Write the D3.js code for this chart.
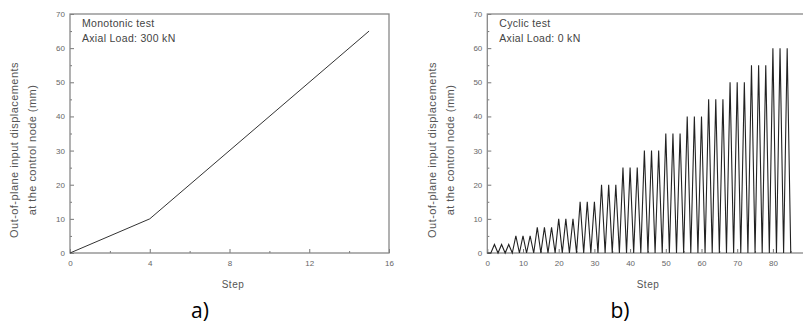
<!DOCTYPE html>
<html lang="en">
<meta charset="utf-8">
<style>
body { margin: 0; background: #fff; }
svg { font-family: "Liberation Sans", Arial, sans-serif; }
.tick text { fill: #666; font-size: 8px; }
.tick line { stroke: #777; }
.frame { fill: none; stroke: #888; stroke-width: 1.3; }
.lbl { fill: #555; font-size: 10px; letter-spacing: 0.5px; }
.ytitle { fill: #555; font-size: 11px; letter-spacing: 0.45px; }
.note { fill: #444; font-size: 10.5px; letter-spacing: 0.3px; }
.panel { font-family: "Open Sans", "Noto Sans", sans-serif; font-size: 21px; fill: #000; }
</style>
<body>
<svg width="803" height="325"></svg>
<script src="https://d3js.org/d3.v7.min.js"></script>
<script>

// a) monotonic test, axial load 300 kN
var monoSteps = [0, 4, 15];
var monoDisp = [0, 10, 65];

// b) cyclic test, axial load 0 kN (one value per step, from step 0)
var cycDisp = [
  0, 0, 2.5, 0, 2.5, 0, 2.5,
  0, 5, 0, 5, 0, 5,
  0, 7.5, 0, 7.5, 0, 7.5,
  0, 10, 0, 10, 0, 10,
  0, 15, 0, 15, 0, 15,
  0, 20, 0, 20, 0, 20,
  0, 25, 0, 25, 0, 25,
  0, 30, 0, 30, 0, 30,
  0, 35, 0, 35, 0, 35,
  0, 40, 0, 40, 0, 40,
  0, 45, 0, 45, 0, 45,
  0, 50, 0, 50, 0, 50,
  0, 55, 0, 55, 0, 55,
  0, 60, 0, 60, 0, 60,
  0
];

var yTicks = [0, 10, 20, 30, 40, 50, 60, 70];
var monoXTicks = [0, 4, 8, 12, 16];
var cycXTicks = [0, 10, 20, 30, 40, 50, 60, 70, 80, 90];

var svg = d3.select("svg");

var y = d3.scaleLinear().domain([0, 70]).range([253, 14]);

function panel(opts) {
  var x = opts.x;
  var g = svg.append("g");
  var x0 = x.range()[0], x1 = x.range()[1];

  // minor ticks
  g.append("g")
      .attr("transform", "translate(0,253)")
      .call(d3.axisBottom(x).tickValues(opts.minorX).tickSize(-2).tickFormat(""))
    .select(".domain").remove();
  g.append("g")
      .attr("transform", "translate(" + x0 + ",0)")
      .call(d3.axisLeft(y).tickValues(d3.range(5, 70, 10)).tickSize(-2).tickFormat(""))
    .select(".domain").remove();

  // major ticks
  g.append("g")
      .attr("transform", "translate(0,253)")
      .call(d3.axisBottom(x).tickValues(opts.xTicks).tickSize(-4).tickPadding(7))
    .select(".domain").remove();
  g.append("g")
      .attr("transform", "translate(" + x0 + ",0)")
      .call(d3.axisLeft(y).tickValues(yTicks).tickSize(-4).tickPadding(5))
    .select(".domain").remove();

  g.append("rect")
      .attr("class", "frame")
      .attr("x", x0).attr("y", y(70))
      .attr("width", x1 - x0).attr("height", y(0) - y(70));

  g.append("path")
      .datum(opts.data)
      .attr("fill", "none")
      .attr("stroke", opts.stroke)
      .attr("stroke-width", opts.width)
      .attr("d", d3.line().x(function(d) { return x(d[0]); }).y(function(d) { return y(d[1]); }));

  g.append("text").attr("class", "note")
      .attr("x", x0 + 12).attr("y", 27).text(opts.note1);
  g.append("text").attr("class", "note")
      .attr("x", x0 + 12).attr("y", 42).text(opts.note2);

  g.append("text").attr("class", "lbl")
      .attr("x", opts.stepX).attr("y", 288)
      .attr("text-anchor", "middle").text("Step");

  var yt = g.append("text").attr("class", "ytitle")
      .attr("text-anchor", "middle")
      .attr("transform", "translate(" + opts.titleX + ",150) rotate(-90)");
  yt.append("tspan").attr("x", 0).attr("y", 0).text("Out-of-plane input displacements");
  yt.append("tspan").attr("x", 0).attr("y", 18).text("at the control node (mm)");

  g.append("text").attr("class", "panel")
      .attr("x", opts.panelX).attr("y", 318)
      .attr("text-anchor", "middle").text(opts.panel);
}

panel({
  x: d3.scaleLinear().domain([0, 16]).range([70, 389]),
  xTicks: monoXTicks,
  minorX: [2, 6, 10, 14],
  data: monoSteps.map(function(s, i) { return [s, monoDisp[i]]; }),
  stroke: "#333", width: 1,
  note1: "Monotonic  test", note2: "Axial Load: 300 kN",
  stepX: 233, titleX: 18, panelX: 200, panel: "a)"
});

panel({
  x: d3.scaleLinear().domain([0, 90]).range([487.3, 808.6]),
  xTicks: cycXTicks,
  minorX: d3.range(5, 90, 10),
  data: cycDisp.map(function(v, i) { return [i, v]; }),
  stroke: "#222", width: 1.1,
  note1: "Cyclic  test", note2: "Axial Load: 0 kN",
  stepX: 648, titleX: 436, panelX: 620, panel: "b)"
});

</script>
</body>
</html>
